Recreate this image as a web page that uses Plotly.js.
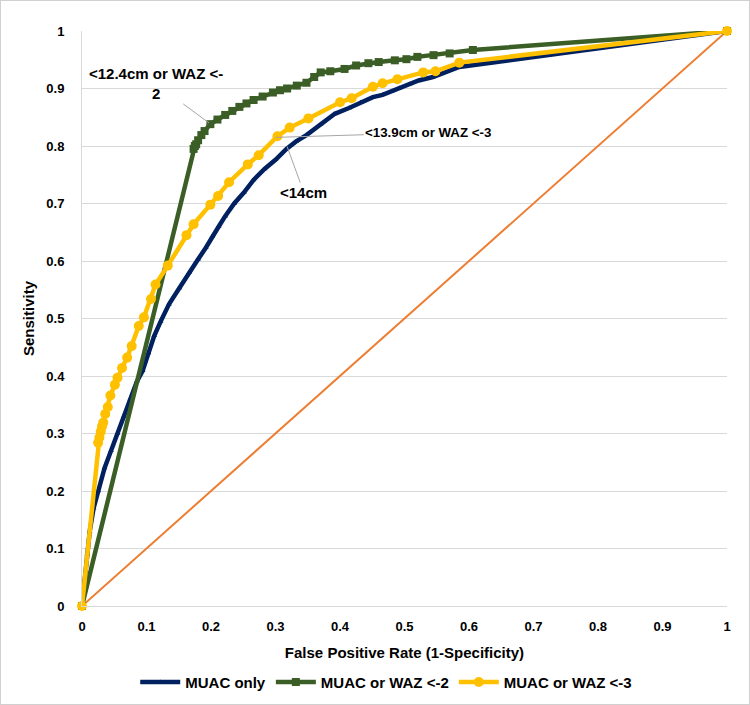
<!DOCTYPE html>
<html>
<head>
<meta charset="utf-8">
<script src="https://cdn.plot.ly/plotly-3.0.1.min.js"></script>
<style>
html,body{margin:0;padding:0;background:#fff;}
#chart{width:750px;height:705px;box-sizing:border-box;border:1px solid #d0d0d0;}
</style>
</head>
<body>
<div id="chart"></div>
<script>
// MUAC only
const muacX = [0, 0.003, 0.008, 0.012, 0.018, 0.025, 0.035, 0.045, 0.055, 0.065, 0.075, 0.085, 0.094, 0.103, 0.112, 0.122, 0.135, 0.151, 0.166, 0.18, 0.192, 0.202, 0.212, 0.222, 0.236, 0.251, 0.266, 0.283, 0.3, 0.317, 0.332, 0.348, 0.37, 0.392, 0.414, 0.432, 0.451, 0.466, 0.48, 0.492, 0.508, 0.522, 0.544, 0.565, 0.585, 1];
const muacY = [0, 0.03, 0.09, 0.13, 0.17, 0.2, 0.24, 0.27, 0.30, 0.33, 0.36, 0.39, 0.409, 0.44, 0.47, 0.495, 0.525, 0.553, 0.58, 0.603, 0.623, 0.643, 0.66, 0.678, 0.70, 0.719, 0.741, 0.76, 0.776, 0.795, 0.808, 0.819, 0.838, 0.856, 0.866, 0.876, 0.885, 0.889, 0.895, 0.901, 0.908, 0.914, 0.92, 0.929, 0.9375, 1];
// MUAC or WAZ <-2
const waz2X = [0, 0.173, 0.175, 0.177, 0.18, 0.185, 0.19, 0.199, 0.21, 0.222, 0.233, 0.244, 0.255, 0.266, 0.28, 0.296, 0.307, 0.318, 0.333, 0.348, 0.36, 0.37, 0.385, 0.407, 0.425, 0.444, 0.46, 0.485, 0.503, 0.52, 0.545, 0.57, 0.606, 1];
const waz2Y = [0, 0.795, 0.8, 0.803, 0.81, 0.819, 0.826, 0.838, 0.846, 0.854, 0.861, 0.868, 0.874, 0.88, 0.886, 0.893, 0.897, 0.90, 0.905, 0.91, 0.92, 0.928, 0.93, 0.934, 0.94, 0.944, 0.946, 0.949, 0.951, 0.955, 0.958, 0.961, 0.967, 1];
// MUAC or WAZ <-3
const waz3X = [0, 0.025, 0.027, 0.029, 0.031, 0.033, 0.036, 0.04, 0.044, 0.051, 0.055, 0.062, 0.07, 0.077, 0.088, 0.096, 0.107, 0.114, 0.133, 0.162, 0.173, 0.199, 0.211, 0.228, 0.257, 0.274, 0.303, 0.322, 0.351, 0.4, 0.418, 0.451, 0.466, 0.489, 0.529, 0.548, 0.585, 1];
const waz3Y = [0, 0.284, 0.293, 0.303, 0.312, 0.319, 0.334, 0.346, 0.366, 0.385, 0.397, 0.414, 0.432, 0.452, 0.487, 0.502, 0.534, 0.559, 0.592, 0.645, 0.664, 0.698, 0.713, 0.737, 0.768, 0.784, 0.817, 0.832, 0.848, 0.876, 0.883, 0.903, 0.909, 0.916, 0.928, 0.93, 0.945, 1];
// reference diagonal
const refX = [0, 1];
const refY = [0, 1];

const seriesNames = ['MUAC only', 'MUAC or WAZ <-2', 'MUAC or WAZ <-3'];
const annoTexts = ['<12.4cm or WAZ <-<br>2', '<13.9cm or WAZ <-3', '<14cm'];

const font = 'Arial, "Liberation Sans", sans-serif';

const traces = [
  {x: refX, y: refY, mode: 'lines', line: {color: '#ED7D31', width: 2}, showlegend: false, hoverinfo: 'skip', cliponaxis: false},
  {x: muacX, y: muacY, name: seriesNames[0], mode: 'lines+markers', line: {color: '#002060', width: 4.5},
   marker: {symbol: 'triangle-up', size: 5, color: '#002060'}, cliponaxis: false},
  {x: waz2X, y: waz2Y, name: seriesNames[1], mode: 'lines+markers', line: {color: '#3B5E26', width: 4.5},
   marker: {symbol: 'square', size: 8, color: '#3B5E26'}, cliponaxis: false},
  {x: waz3X, y: waz3Y, name: seriesNames[2], mode: 'lines+markers', line: {color: '#FFC000', width: 4.5},
   marker: {symbol: 'circle', size: 10, color: '#FFC000'}, cliponaxis: false}
];

const layout = {
  width: 748, height: 703,
  margin: {l: 81, r: 22, t: 30, b: 98},
  paper_bgcolor: '#fff', plot_bgcolor: '#fff',
  font: {family: font, color: '#000', size: 13},
  xaxis: {
    range: [0, 1], dtick: 0.1, tick0: 0, showgrid: false, zeroline: false, automargin: false,
    showline: true, linecolor: '#d9d9d9', linewidth: 1,
    tickfont: {family: font, size: 13, color: '#000', weight: 'bold'},
    ticklabelstandoff: 8,
    title: {text: '<b>False Positive Rate (1-Specificity)</b>', font: {family: font, size: 15, color: '#000'}, standoff: 14}
  },
  yaxis: {
    range: [0, 1], dtick: 0.1, tick0: 0, showgrid: true, gridcolor: '#d9d9d9', gridwidth: 1, zeroline: false, automargin: false,
    showline: true, linecolor: '#d9d9d9', linewidth: 1,
    tickfont: {family: font, size: 13, color: '#000', weight: 'bold'},
    ticklabelstandoff: 14,
    title: {text: '<b>Sensitivity</b>', font: {family: font, size: 15, color: '#000'}, standoff: 8}
  },
  legend: {orientation: 'h', x: 0.515, xanchor: 'center', xref: 'container', y: 0.031, yanchor: 'middle', yref: 'container',
    font: {family: font, size: 15, color: '#000', weight: 'bold'}, itemwidth: 40, tracegroupgap: 0},
  annotations: [
    {x: 0.197, y: 0.84, xref: 'x', yref: 'y', ax: 0.115, ay: 0.908, axref: 'x', ayref: 'y',
     text: '<b>' + annoTexts[0] + '</b>', showarrow: true, arrowhead: 0, arrowwidth: 1, arrowcolor: '#a6a6a6',
     font: {family: font, size: 15, color: '#000'}, align: 'center'},
    {x: 0.3, y: 0.815, xref: 'x', yref: 'y', ax: 0.537, ay: 0.823, axref: 'x', ayref: 'y',
     text: '<b>' + annoTexts[1] + '</b>', showarrow: true, arrowhead: 0, arrowwidth: 1, arrowcolor: '#a6a6a6',
     font: {family: font, size: 13.3, color: '#000'}},
    {x: 0.318, y: 0.799, xref: 'x', yref: 'y', ax: 0.344, ay: 0.719, axref: 'x', ayref: 'y',
     text: '<b>' + annoTexts[2] + '</b>', showarrow: true, arrowhead: 0, arrowwidth: 1, arrowcolor: '#a6a6a6',
     font: {family: font, size: 15, color: '#000'}}
  ]
};

Plotly.newPlot('chart', traces, layout, {displayModeBar: false, staticPlot: true});
</script>
</body>
</html>
